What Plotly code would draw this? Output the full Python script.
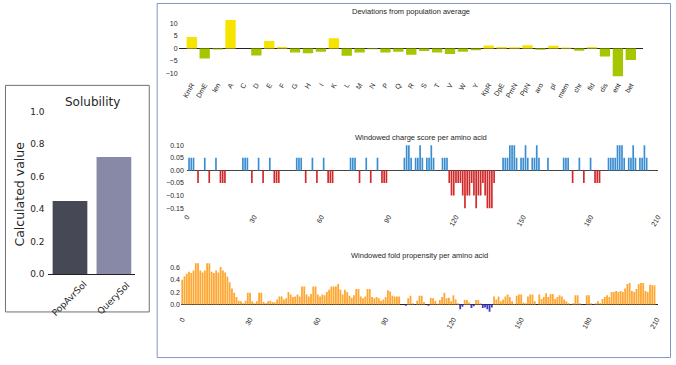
import plotly.graph_objects as go

W, H = 676, 365

# ---------------- data ----------------
sol_labels = ["PopAvrSol", "QuerySol"]
sol_values = [0.45, 0.72]
sol_colors = ["#464855", "#8889a6"]

dev_labels = ["KmR", "DmE", "len", "A", "C", "D", "E", "F", "G", "H", "I", "K", "L", "M",
              "N", "P", "Q", "R", "S", "T", "V", "W", "Y", "KpR", "DpE", "PmN", "PpN",
              "aro", "pI", "mem", "chr", "fld", "dis", "ent", "bet"]
dev_values = [4.6, -4.1, -0.4, 11.4, 0.0, -2.9, 3.0, 0.6, -1.7, -2.0, -1.3, 4.1, -3.0, -1.7,
              -0.3, -1.7, -1.3, -2.6, -1.0, -1.7, -2.3, -1.3, -0.7, 1.2, 0.6, 0.5, 1.3,
              -0.5, 1.1, 0.4, -0.9, 0.6, -3.3, -11.2, -4.7]

charge_residue = [1, 2, 3, 5, 8, 10, 13, 15, 16, 17,
                  25, 26, 27, 29, 32, 34, 37, 39, 40, 41,
                  49, 50, 51, 53, 56, 58, 61, 63, 64, 65,
                  73, 74, 75, 77, 80, 82, 85, 87, 88, 89,
                  97, 98, 99, 100, 102, 103, 104, 105, 107, 108, 109, 110, 114, 115, 116,
                  117, 118, 119, 120, 121, 122, 123, 124, 125, 126, 127, 128, 129, 130,
                  131, 132, 133, 134, 135, 136, 137,
                  141, 142, 143, 144, 145, 146, 147, 149, 150, 151, 152, 154, 155, 156, 157, 161,
                  168, 169, 170, 172, 175, 177, 180, 182, 183, 184,
                  188, 189, 190, 191, 192, 193, 194, 195, 197, 198, 199, 200, 202, 203, 204, 205]
charge_score = [0.05, 0.05, 0.05, -0.05, 0.05, -0.05, 0.05, -0.05, -0.05, -0.05,
                0.05, 0.05, 0.05, -0.05, 0.05, -0.05, 0.05, -0.05, -0.05, -0.05,
                0.05, 0.05, 0.05, -0.05, 0.05, -0.05, 0.05, -0.05, -0.05, -0.05,
                0.05, 0.05, 0.05, -0.05, 0.05, -0.05, 0.05, -0.05, -0.05, -0.05,
                0.05, 0.10, 0.10, 0.05, 0.05, 0.05, 0.10, 0.05, 0.05, 0.05, 0.10, 0.05, 0.05, 0.05, 0.05,
                -0.05, -0.10, -0.10, -0.05, -0.05, -0.05, -0.10, -0.15, -0.10, -0.10, -0.05, -0.10, -0.15, -0.10,
                -0.10, -0.05, -0.10, -0.15, -0.15, -0.15, -0.05,
                0.05, 0.05, 0.05, 0.10, 0.10, 0.10, 0.05, 0.05, 0.05, 0.10, 0.05, 0.05, 0.05, 0.10, 0.05, 0.05,
                0.05, 0.05, 0.05, -0.05, 0.05, -0.05, 0.05, -0.05, -0.05, -0.05,
                0.05, 0.05, 0.05, 0.05, 0.10, 0.10, 0.10, 0.05, 0.05, 0.05, 0.10, 0.05, 0.05, 0.05, 0.10, 0.05]

fold_values = [
    0.40, 0.46, 0.50, 0.53, 0.51, 0.55, 0.67, 0.67, 0.55, 0.52,
    0.55, 0.67, 0.67, 0.53, 0.51, 0.55, 0.52, 0.61, 0.55, 0.52,
    0.45, 0.36, 0.26, 0.19, 0.12, 0.06, 0.05, 0.02, 0.06, 0.19,
    0.19, 0.05, 0.02, 0.05, 0.19, 0.19, 0.04, 0.02, 0.05, 0.06,
    0.04, 0.03, 0.08, 0.13, 0.13, 0.08, 0.10, 0.20, 0.16, 0.12,
    0.13, 0.16, 0.13, 0.29, 0.29, 0.16, 0.13, 0.17, 0.29, 0.29,
    0.16, 0.13, 0.16, 0.15, 0.20, 0.24, 0.29, 0.29, 0.29, 0.33,
    0.24, 0.16, 0.24, 0.20, 0.14, 0.11, 0.15, 0.25, 0.25, 0.13,
    0.10, 0.13, 0.25, 0.25, 0.12, 0.10, 0.12, 0.10, 0.06, 0.08,
    0.12, 0.23, 0.21, 0.14, 0.13, 0.13, 0.13, 0.00, 0.00, -0.02,
    0.10, 0.14, 0.02, -0.01, 0.06, 0.14, 0.14, 0.04, 0.00, -0.02,
    0.11, 0.10, 0.06, 0.01, 0.07, 0.12, 0.19, 0.10, 0.11, 0.05,
    0.15, 0.08, 0.02, -0.08, -0.04, 0.07, 0.07, 0.03, -0.06, -0.03,
    0.07, 0.07, 0.02, -0.06, -0.05, -0.08, -0.12, -0.05, 0.13, 0.08,
    0.13, 0.05, 0.08, 0.13, 0.16, 0.12, 0.05, 0.01, 0.14, 0.16,
    0.16, 0.03, 0.02, 0.13, 0.16, 0.16, 0.05, 0.00, 0.16, 0.09,
    0.12, 0.18, 0.12, 0.17, 0.17, 0.09, 0.12, 0.15, 0.13, 0.08,
    0.05, 0.02, -0.01, 0.02, 0.15, 0.15, 0.02, -0.01, 0.00, 0.15,
    0.15, 0.02, -0.01, 0.02, 0.05, 0.02, 0.09, 0.12, 0.15, 0.12,
    0.20, 0.20, 0.22, 0.20, 0.22, 0.20, 0.26, 0.33, 0.35, 0.22,
    0.20, 0.25, 0.33, 0.35, 0.35, 0.22, 0.20, 0.32, 0.31, 0.31,
]
fold_residue = list(range(len(fold_values)))
pos_ticks = [0, 30, 60, 90, 120, 150, 180, 210]

# ---------------- helpers ----------------
def px_x(p):
    return p / W

def px_y(p):
    return 1 - p / H

LEFT_FONT = "DejaVu Sans"
RIGHT_FONT = "Liberation Sans, Arial, sans-serif"
TXT = "#262626"

fig = go.Figure()

# Solubility
fig.add_trace(go.Bar(x=[0, 1], y=sol_values, marker=dict(color=sol_colors, line=dict(width=0)),
                     width=0.79, xaxis="x", yaxis="y", showlegend=False, hoverinfo="skip"))
# Deviations
fig.add_trace(go.Bar(x=list(range(len(dev_labels))), y=dev_values,
                     marker=dict(color=["#f7e300" if v > 0 else "#a6c600" for v in dev_values],
                                 line=dict(width=0)),
                     width=0.8, xaxis="x2", yaxis="y2", showlegend=False, hoverinfo="skip"))
# Charge
fig.add_trace(go.Bar(x=charge_residue, y=charge_score,
                     marker=dict(color=["#3a8dd0" if v > 0 else "#d22a2a" for v in charge_score],
                                 line=dict(width=0)),
                     width=0.75, xaxis="x3", yaxis="y3", showlegend=False, hoverinfo="skip"))
# Fold
fig.add_trace(go.Bar(x=fold_residue, y=fold_values,
                     marker=dict(color=["#ffa733" if v >= 0 else "#3b3bd0" for v in fold_values],
                                 line=dict(width=0)),
                     width=0.8, xaxis="x4", yaxis="y4", showlegend=False, hoverinfo="skip"))

axis_common = dict(showgrid=False, ticks="", fixedrange=True)

fig.update_layout(
    width=W, height=H, margin=dict(l=0, r=0, t=0, b=0),
    paper_bgcolor="white", plot_bgcolor="white", barmode="overlay",
    xaxis=dict(domain=[px_x(45), px_x(133)], range=[-0.49, 1.49], showticklabels=False,
               showline=True, linecolor="#222", linewidth=1, zeroline=False, anchor="y", **axis_common),
    yaxis=dict(domain=[px_y(277.3), px_y(108.4)], range=[0, 1.02], tickvals=[0, 0.2, 0.4, 0.6, 0.8, 1.0],
               tickformat=".1f", zeroline=False, showline=False, anchor="x", ticklabelstandoff=3,
               tickfont=dict(family=LEFT_FONT, size=9, color=TXT), **axis_common),
    xaxis2=dict(domain=[px_x(176.7), px_x(646.7)], range=[-1.02, 34.95], tickvals=list(range(len(dev_labels))),
                ticktext=dev_labels, tickangle=-60, zeroline=False, anchor="y2",
                tickfont=dict(family=RIGHT_FONT, size=7, color=TXT), **axis_common),
    yaxis2=dict(domain=[px_y(78.2), px_y(15.9)], range=[-12.2, 12.4], tickvals=[-10, -5, 0, 5, 10],
                zeroline=True, zerolinecolor="#222", zerolinewidth=1, anchor="x2",
                tickfont=dict(family=RIGHT_FONT, size=7, color=TXT), **axis_common),
    xaxis3=dict(domain=[px_x(185), px_x(661.7)], range=[0, 210], tickvals=pos_ticks, tickangle=-60,
                zeroline=False, anchor="y3", tickfont=dict(family=RIGHT_FONT, size=7, color=TXT), **axis_common),
    yaxis3=dict(domain=[px_y(212.8), px_y(143.5)], range=[-0.16, 0.11],
                tickvals=[-0.15, -0.10, -0.05, 0, 0.05, 0.10], tickformat=".2f", ticklabelstandoff=2,
                zeroline=True, zerolinecolor="#444", zerolinewidth=1, anchor="x3",
                tickfont=dict(family=RIGHT_FONT, size=7, color=TXT), **axis_common),
    xaxis4=dict(domain=[px_x(179), px_x(661.5)], range=[-0.6, 210.4], tickvals=pos_ticks, tickangle=-60,
                zeroline=False, anchor="y4", tickfont=dict(family=RIGHT_FONT, size=7, color=TXT), **axis_common),
    yaxis4=dict(domain=[px_y(317.1), px_y(263.2)], range=[-0.14, 0.72], tickvals=[0, 0.2, 0.4, 0.6],
                tickformat=".1f", zeroline=True, zerolinecolor="#222", zerolinewidth=1, anchor="x4",
                tickfont=dict(family=RIGHT_FONT, size=7, color=TXT), **axis_common),
)

annotations = [
    dict(text="Solubility", x=px_x(90), y=px_y(101.7), font=dict(family=LEFT_FONT, size=12, color=TXT)),
    dict(text="Calculated value", x=px_x(15.5), y=px_y(196), textangle=-90,
         font=dict(family=LEFT_FONT, size=12.5, color=TXT)),
    dict(text="Deviations from population average", x=px_x(411.7), y=px_y(10),
         font=dict(family=RIGHT_FONT, size=7.5, color=TXT)),
    dict(text="Windowed charge score per amino acid", x=px_x(421.7), y=px_y(138.3),
         font=dict(family=RIGHT_FONT, size=7.5, color=TXT)),
    dict(text="Windowed fold propensity per amino acid", x=px_x(420), y=px_y(258.3),
         font=dict(family=RIGHT_FONT, size=7.5, color=TXT)),
]
for i, lab in enumerate(sol_labels):
    annotations.append(dict(text=lab, x=i, xref="x", y=px_y(302), textangle=-45,
                            font=dict(family=LEFT_FONT, size=9, color=TXT)))
for a in annotations:
    a.setdefault("xref", "paper")
    a.setdefault("yref", "paper")
    a.update(showarrow=False, xanchor="center", yanchor="middle")
fig.update_layout(annotations=annotations)

fig.update_layout(shapes=[
    dict(type="rect", xref="paper", yref="paper", x0=px_x(1.5), x1=px_x(147), y0=px_y(316), y1=px_y(85),
         line=dict(color="#707070", width=1)),
    dict(type="rect", xref="paper", yref="paper", x0=px_x(155), x1=px_x(674.5), y0=px_y(362.5), y1=px_y(1.5),
         line=dict(color="#8495c4", width=1)),
])

fig.write_html("out.html", config={"displayModeBar": False, "staticPlot": True},
               post_script="document.body.style.margin='0';document.body.style.overflow='hidden';")
